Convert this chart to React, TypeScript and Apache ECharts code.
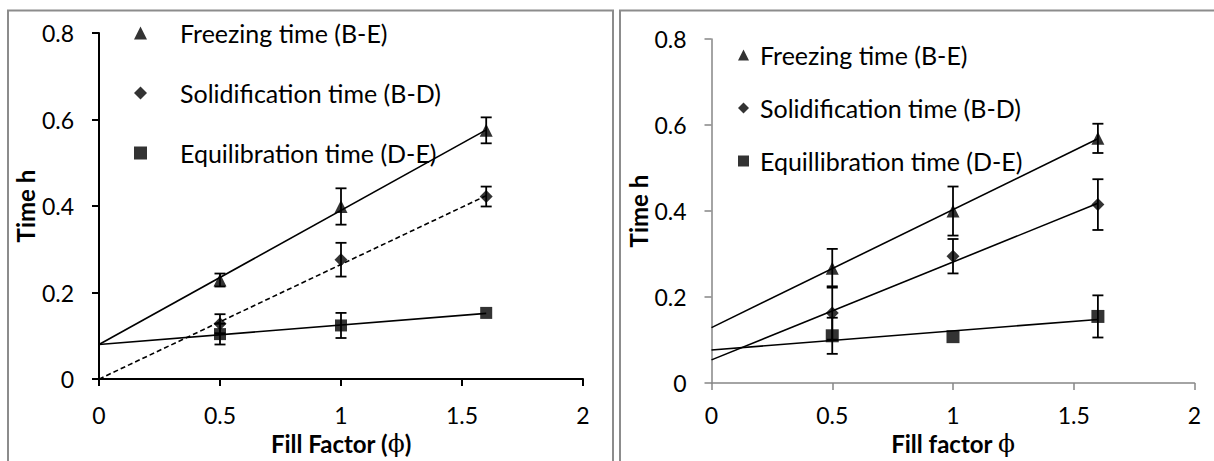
import React, { useEffect, useRef } from "react";
import * as echarts from "echarts";

// ---------- data ----------
const fillFactor = [0.5, 1.0, 1.6];
const trendX = [0, 1.6];

// Left panel
const freezeL = [0.229, 0.399, 0.575];
const freezeErrL = [0.015, 0.042, 0.03];
const solidL = [0.128, 0.276, 0.422];
const solidErrL = [0.022, 0.039, 0.023];
const equilL = [0.104, 0.124, 0.153];
const equilErrL = [0.024, 0.029, 0];
const freezeTrendL = [0.08, 0.576];
const solidTrendL = [0, 0.424];
const equilTrendL = [0.08, 0.152];

// Right panel
const freezeR = [0.267, 0.4, 0.569];
const freezeErrR = [0.045, 0.057, 0.034];
const solidR = [0.163, 0.295, 0.415];
const solidErrR = [0.062, 0.04, 0.059];
const equilR = [0.11, 0.108, 0.155];
const equilErrR = [0.042, 0, 0.049];
const freezeTrendR = [0.129, 0.568];
const solidTrendR = [0.054, 0.418];
const equilTrendR = [0.077, 0.148];

const namesL = ["Freezing time (B-E)", "Solidification time (B-D)", "Equilibration time (D-E)"];
const namesR = ["Freezing time (B-E)", "Solidification time (B-D)", "Equillibration time (D-E)"];
const symbols = ["triangle", "diamond", "rect"];

const FONT = "Lato";

function scatter(name: string, vals: number[], symbol: string, size: number, axis: number) {
  return {
    name,
    type: "scatter",
    xAxisIndex: axis,
    yAxisIndex: axis,
    symbol,
    symbolSize: size,
    itemStyle: { color: "#000" },
    data: fillFactor.map((x, i) => [x, vals[i]]),
    z: 5,
  };
}

function trend(vals: number[], axis: number, dashed = false) {
  return {
    type: "line",
    xAxisIndex: axis,
    yAxisIndex: axis,
    symbol: "none",
    silent: true,
    lineStyle: { color: "#000", width: 1.6, type: dashed ? [5, 3] : "solid" },
    data: trendX.map((x, i) => [x, vals[i]]),
    z: 3,
  };
}

function errBars(vals: number[], errs: number[], axis: number) {
  return {
    type: "custom",
    xAxisIndex: axis,
    yAxisIndex: axis,
    silent: true,
    z: 4,
    encode: { x: 0, y: [1, 2] },
    data: fillFactor
      .map((x, i) => [x, vals[i] - errs[i], vals[i] + errs[i], errs[i]])
      .filter((d) => d[3] > 0),
    renderItem: (_p: any, api: any) => {
      const lo = api.coord([api.value(0), api.value(1)]);
      const hi = api.coord([api.value(0), api.value(2)]);
      const w = 5.5;
      const st = { stroke: "#000", lineWidth: 1.8 };
      return {
        type: "group",
        children: [
          { type: "line", shape: { x1: lo[0], y1: lo[1], x2: hi[0], y2: hi[1] }, style: st },
          { type: "line", shape: { x1: lo[0] - w, y1: lo[1], x2: lo[0] + w, y2: lo[1] }, style: st },
          { type: "line", shape: { x1: hi[0] - w, y1: hi[1], x2: hi[0] + w, y2: hi[1] }, style: st },
        ],
      };
    },
  };
}

function xAxis(idx: number, color: string, width: number, nameRich: string, gap: number, labelMargin: number) {
  return {
    type: "value",
    gridIndex: idx,
    min: 0,
    max: 2,
    interval: 0.5,
    splitLine: { show: false },
    axisLine: { lineStyle: { color, width } },
    axisTick: { length: 7, lineStyle: { color, width } },
    axisLabel: { color: "#000", fontFamily: FONT, fontSize: 23, margin: labelMargin },
    name: nameRich,
    nameLocation: "middle",
    nameGap: gap,
    nameTextStyle: {
      rich: {
        a: { fontFamily: FONT, fontWeight: "bold", fontSize: 24, color: "#000" },
        b: { fontFamily: "DejaVu Serif", fontSize: 25, color: "#000" },
      },
    },
  };
}

function yAxis(idx: number, color: string, width: number, gap: number) {
  return {
    type: "value",
    gridIndex: idx,
    min: 0,
    max: 0.8,
    interval: 0.2,
    splitLine: { show: false },
    axisLine: { show: true, lineStyle: { color, width } },
    axisTick: { show: true, length: 7, lineStyle: { color, width } },
    axisLabel: { color: "#000", fontFamily: FONT, fontSize: 23, margin: 25 },
    name: "Time h",
    nameLocation: "middle",
    nameGap: gap,
    nameTextStyle: { fontFamily: FONT, fontWeight: "bold", fontSize: 24, color: "#000" },
  };
}

export default function App() {
  const ref = useRef<HTMLDivElement>(null);
  useEffect(() => {
    if (!ref.current) return;
    const chart = echarts.init(ref.current, undefined, { renderer: "svg" });
    const option: any = {
      animation: false,
      backgroundColor: "#fff",
      graphic: [
        {
          type: "rect",
          silent: true,
          z: -10,
          shape: { x: 8, y: 10.5, width: 605, height: 480 },
          style: { fill: "none", stroke: "#8c8c8c", lineWidth: 2 },
        },
        {
          type: "rect",
          silent: true,
          z: -10,
          shape: { x: 620, y: 10.5, width: 640, height: 480 },
          style: { fill: "none", stroke: "#8c8c8c", lineWidth: 2 },
        },
      ],
      grid: [
        { left: 99, top: 33, width: 484, height: 352 },
        { left: 711.5, top: 39, width: 483, height: 352 },
      ],
      xAxis: [
        xAxis(0, "#000", 2, "{a|Fill Factor (}{b|ϕ}{a|)}", 48, 24),
        xAxis(1, "#868686", 1.5, "{a|Fill factor }{b|ϕ}", 40, 20),
      ],
      yAxis: [yAxis(0, "#000", 2, 55), yAxis(1, "#868686", 1.5, 55)],
      legend: [
        {
          orient: "vertical",
          left: 134,
          top: 20,
          padding: 0,
          itemWidth: 13,
          itemHeight: 13,
          itemGap: 34,
          data: namesL,
          selectedMode: false,
          textStyle: { fontFamily: FONT, fontSize: 25, color: "#000", lineHeight: 26, padding: [0, 0, 0, 28] },
        },
        {
          orient: "vertical",
          left: 738,
          top: 42,
          padding: 0,
          itemWidth: 11,
          itemHeight: 11,
          itemGap: 27,
          data: namesR,
          selectedMode: false,
          textStyle: { fontFamily: FONT, fontSize: 25, color: "#000", lineHeight: 26, padding: [0, 0, 0, 6] },
        },
      ],
      series: [
        trend(freezeTrendL, 0),
        trend(solidTrendL, 0, true),
        trend(equilTrendL, 0),
        errBars(freezeL, freezeErrL, 0),
        errBars(solidL, solidErrL, 0),
        errBars(equilL, equilErrL, 0),
        scatter(namesL[0], freezeL, symbols[0], 13, 0),
        scatter(namesL[1], solidL, symbols[1], 13, 0),
        scatter(namesL[2], equilL, symbols[2], 12, 0),
        trend(freezeTrendR, 1),
        trend(solidTrendR, 1),
        trend(equilTrendR, 1),
        errBars(freezeR, freezeErrR, 1),
        errBars(solidR, solidErrR, 1),
        errBars(equilR, equilErrR, 1),
        scatter(namesR[0], freezeR, symbols[0], 13, 1),
        scatter(namesR[1], solidR, symbols[1], 13, 1),
        scatter(namesR[2], equilR, symbols[2], 13, 1),
      ],
    };
    chart.setOption(option);
    return () => chart.dispose();
  }, []);
  return (
    <div
      ref={ref}
      style={{ position: "absolute", left: 0, top: 0, width: 1214, height: 461 }}
    />
  );
}
